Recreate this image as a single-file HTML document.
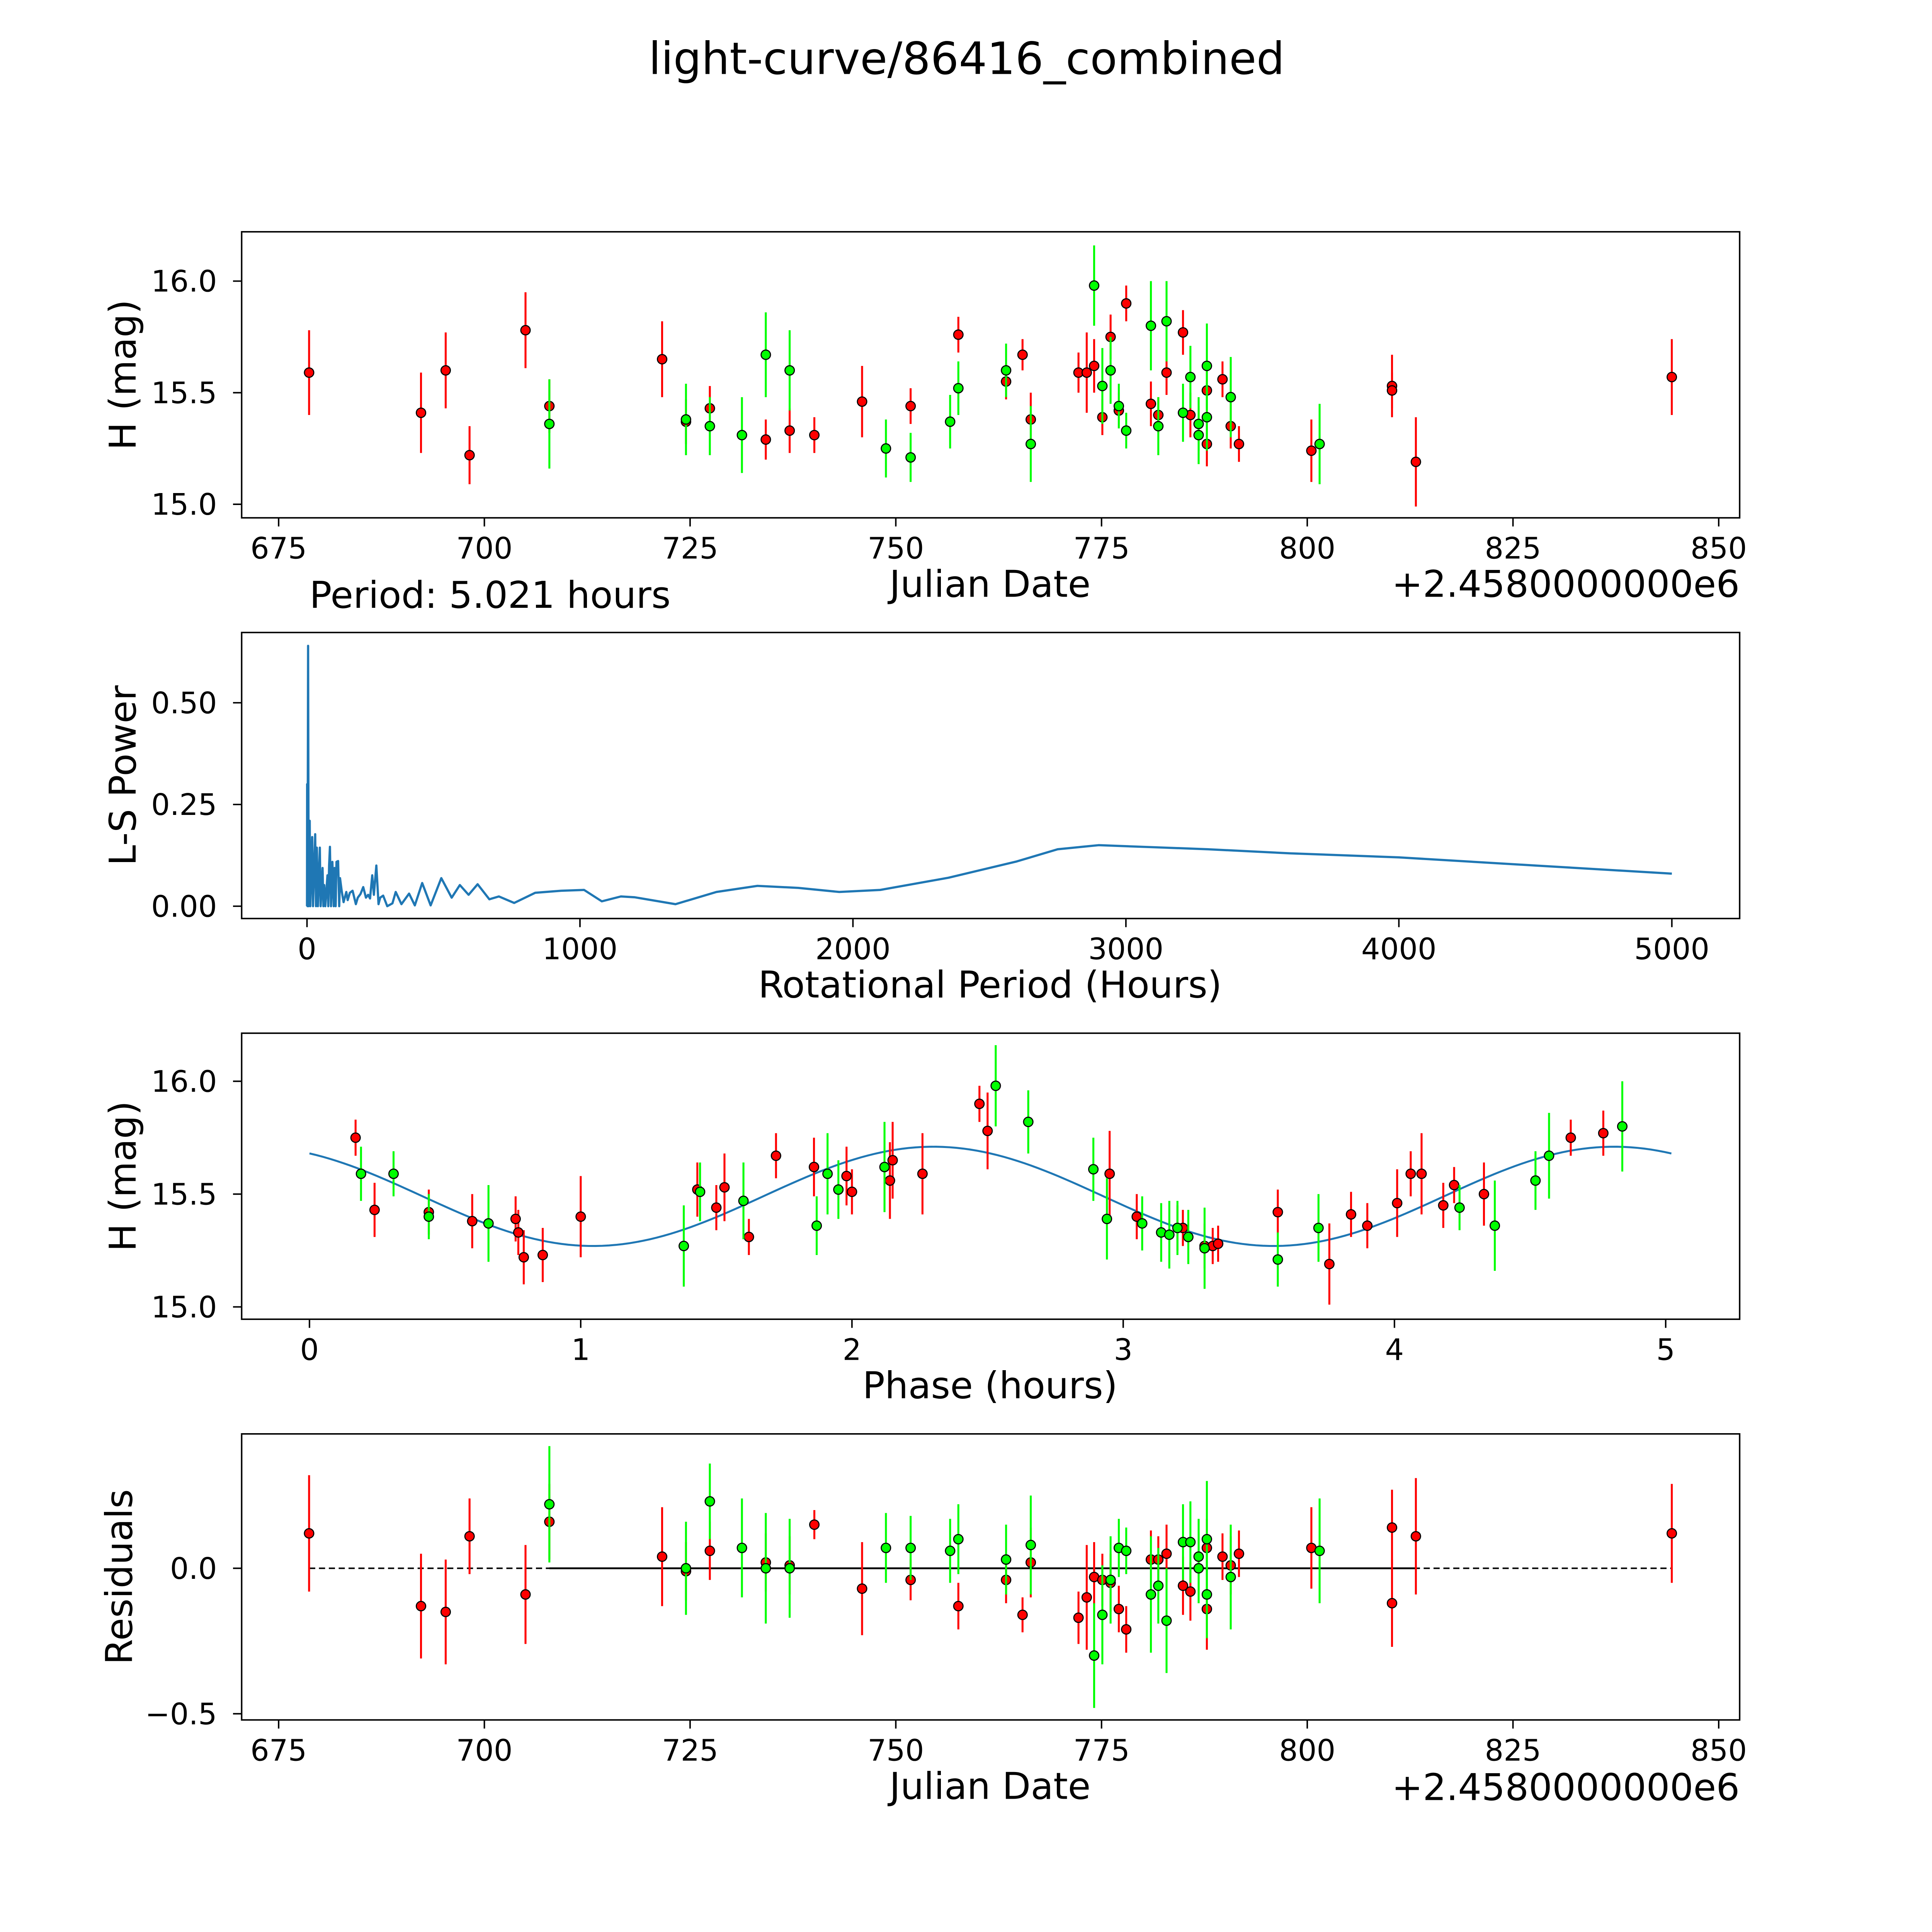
<!DOCTYPE html>
<html><head><meta charset="utf-8"><style>
html,body{margin:0;padding:0;background:#fff;overflow:hidden;width:100%;height:100%;}
svg{display:block;position:absolute;left:0;top:0;width:100vw;height:100vh;}
text{font-family:"DejaVu Sans","Liberation Sans",sans-serif;fill:#000;}
</style></head><body>
<svg id="fig" viewBox="0 0 1567 1567" preserveAspectRatio="none" xmlns="http://www.w3.org/2000/svg">
<rect width="1567" height="1567" fill="#fff"/>
<text x="784" y="60" font-size="36" text-anchor="middle">light-curve/86416_combined</text>
</svg>
<script>
// ---- Panel 1: light curve (date, mag, err) ----
const redDates=[678.7,692.3,695.3,698.2,705.0,707.9,721.6,724.5,727.4,734.2,737.1,740.1,745.9,751.8,757.6,763.4,765.4,766.4,772.2,773.2,774.1,775.1,776.1,777.1,778.0,781.0,781.9,782.9,784.9,785.8,787.8,787.8,789.7,790.7,791.7,800.5,810.3,810.3,813.2,844.3];
const redMags=[15.59,15.41,15.60,15.22,15.78,15.44,15.65,15.37,15.43,15.29,15.33,15.31,15.46,15.44,15.76,15.55,15.67,15.38,15.59,15.59,15.62,15.39,15.75,15.42,15.90,15.45,15.40,15.59,15.77,15.40,15.51,15.27,15.56,15.35,15.27,15.24,15.53,15.51,15.19,15.57];
const redErrs=[0.19,0.18,0.17,0.13,0.17,0.12,0.17,0.10,0.10,0.09,0.10,0.08,0.16,0.08,0.08,0.08,0.07,0.12,0.09,0.18,0.12,0.08,0.10,0.08,0.08,0.10,0.08,0.10,0.10,0.10,0.10,0.10,0.08,0.10,0.08,0.14,0.14,0.08,0.20,0.17];
const greenDates=[707.9,724.5,727.4,731.3,734.2,737.1,748.8,751.8,756.6,757.6,763.4,766.4,774.1,775.1,776.1,777.1,778.0,781.0,781.9,782.9,784.9,785.8,786.8,786.8,787.8,787.8,790.7,801.5];
const greenMags=[15.36,15.38,15.35,15.31,15.67,15.60,15.25,15.21,15.37,15.52,15.60,15.27,15.98,15.53,15.60,15.44,15.33,15.80,15.35,15.82,15.41,15.57,15.36,15.31,15.62,15.39,15.48,15.27];
const greenErrs=[0.20,0.16,0.13,0.17,0.19,0.18,0.13,0.11,0.12,0.12,0.12,0.17,0.18,0.17,0.15,0.10,0.08,0.20,0.13,0.18,0.13,0.14,0.12,0.13,0.19,0.15,0.18,0.18];
// ---- Panel 2: periodogram ----
const lsPeriods=[0,0.5,2,4,6,10,12,19,22,30,33,36,40,47,50,57,60,63,67,75,78,81,84,88,93,98,101,105,108,114,118,121,127,134,144,149,157,167,179,186,196,206,216,224,231,239,245,254,262,268,279,294,313,325,346,374,395,422,453,492,530,560,592,625,668,703,759,836,931,1015,1080,1150,1200,1350,1500,1650,1800,1950,2100,2350,2600,2750,2900,3100,3300,3600,4000,4500,5000];
const lsPowers=[0,0.30,0,0.64,0,0.21,0,0.17,0,0.177,0,0.144,0,0.144,0,0.094,0,0.052,0,0.076,0,0.10,0.146,0,0.109,0,0.094,0,0.109,0.111,0,0.069,0.038,0.01,0.035,0.015,0.033,0.038,0.005,0.021,0.03,0.047,0.021,0.028,0.019,0.076,0.028,0.10,0.005,0.021,0.026,0,0.007,0.035,0.005,0.031,0.002,0.057,0.002,0.069,0.021,0.052,0.028,0.054,0.017,0.024,0.008,0.033,0.038,0.04,0.012,0.024,0.022,0.005,0.035,0.05,0.045,0.035,0.04,0.07,0.11,0.14,0.15,0.145,0.14,0.13,0.12,0.10,0.08];
// ---- Panel 3: phased ----
const redPhases=[0.17,0.24,0.44,0.60,0.76,0.77,0.79,0.86,1.00,1.43,1.50,1.53,1.62,1.72,1.86,1.98,2.00,2.14,2.15,2.26,2.47,2.50,2.95,3.05,3.20,3.22,3.30,3.33,3.35,3.57,3.76,3.84,3.90,4.01,4.06,4.10,4.18,4.22,4.33,4.65,4.77];
const redPhaseMags=[15.75,15.43,15.42,15.38,15.39,15.33,15.22,15.23,15.40,15.52,15.44,15.53,15.31,15.67,15.62,15.58,15.51,15.56,15.65,15.59,15.90,15.78,15.59,15.40,15.35,15.35,15.27,15.27,15.28,15.42,15.19,15.41,15.36,15.46,15.59,15.59,15.45,15.54,15.50,15.75,15.77];
const redPhaseErrs=[0.08,0.12,0.10,0.12,0.10,0.10,0.12,0.12,0.18,0.12,0.10,0.15,0.08,0.10,0.13,0.13,0.10,0.17,0.17,0.18,0.08,0.17,0.19,0.10,0.10,0.08,0.10,0.08,0.08,0.10,0.18,0.10,0.10,0.15,0.10,0.18,0.10,0.08,0.14,0.08,0.10];
const greenPhases=[0.19,0.31,0.44,0.66,1.38,1.44,1.60,1.87,1.91,1.95,2.12,2.53,2.65,2.89,2.94,3.07,3.14,3.17,3.20,3.24,3.30,3.57,3.72,4.24,4.37,4.52,4.57,4.84];
const greenPhaseMags=[15.59,15.59,15.40,15.37,15.27,15.51,15.47,15.36,15.59,15.52,15.62,15.98,15.82,15.61,15.39,15.37,15.33,15.32,15.35,15.31,15.26,15.21,15.35,15.44,15.36,15.56,15.67,15.80];
const greenPhaseErrs=[0.12,0.10,0.10,0.17,0.18,0.13,0.17,0.13,0.18,0.13,0.20,0.18,0.14,0.14,0.18,0.12,0.13,0.15,0.12,0.12,0.18,0.12,0.15,0.10,0.20,0.13,0.19,0.20];
const fitParams=[15.49,0.22,2.51,2.30]; // mean, amplitude, period(h), peak phase
// ---- Panel 4: residuals ----
const redResid=[0.12,-0.13,-0.15,0.11,-0.09,0.16,0.04,-0.01,0.06,0.02,0.01,0.15,-0.07,-0.04,-0.13,-0.04,-0.16,0.02,-0.17,-0.10,-0.03,-0.04,-0.05,-0.14,-0.21,0.03,0.03,0.05,-0.06,-0.08,0.07,-0.14,0.04,0.01,0.05,0.07,0.14,-0.12,0.11,0.12];
const redResidErrs=[0.20,0.18,0.18,0.13,0.17,0.13,0.17,0.10,0.10,0.10,0.10,0.05,0.16,0.07,0.08,0.08,0.06,0.12,0.09,0.18,0.12,0.09,0.10,0.08,0.08,0.10,0.08,0.10,0.10,0.10,0.10,0.14,0.08,0.10,0.08,0.14,0.13,0.15,0.20,0.17];
const greenResid=[0.22,0.00,0.23,0.07,0.00,0.00,0.07,0.07,0.06,0.10,0.03,0.08,-0.30,-0.16,-0.04,0.07,0.06,-0.09,-0.06,-0.18,0.09,0.09,0.00,0.04,0.10,-0.09,-0.03,0.06];
const greenResidErrs=[0.20,0.16,0.13,0.17,0.19,0.17,0.12,0.11,0.11,0.12,0.12,0.17,0.18,0.17,0.15,0.10,0.08,0.20,0.13,0.18,0.13,0.14,0.12,0.13,0.20,0.15,0.18,0.18];
const dateTicks=[675,700,725,750,775,800,825,850];
const magTicks=[15.0,15.5,16.0];
const magTickLabels=["15.0","15.5","16.0"];
const lsXTicks=[0,1000,2000,3000,4000,5000];
const lsYTicks=[0,0.25,0.5];
const lsYTickLabels=["0.00","0.25","0.50"];
const phaseTicks=[0,1,2,3,4,5];
const residTicks=[-0.5,0.0];
const residTickLabels=["\u22120.5","0.0"];

const NS="http://www.w3.org/2000/svg";
const svg=document.getElementById('fig');
function mk(tag,attrs,parent){const e=document.createElementNS(NS,tag);for(const k in attrs)e.setAttribute(k,attrs[k]);(parent||svg).appendChild(e);return e;}
function lin(d0,d1,r0,r1){return v=>r0+(v-d0)*(r1-r0)/(d1-d0);}
const L=196,R=1411;
const xDate=lin(675,850,226,1394);
const xLS=lin(0,5000,249,1356);
const xPh=lin(0,5,251,1351);
const panels=[{t:188,b:420,name:'light-curve-panel'},{t:513,b:745,name:'periodogram-panel'},{t:838,b:1070,name:'phase-panel'},{t:1163,b:1395,name:'residuals-panel'}];
const y1=lin(15,16,409,228), y2=lin(0,0.5,735,570), y3=lin(15,16,1060,877), y4=lin(-0.5,0,1390,1272);

function frame(p){const g=mk('g',{});
 const c=mk('clipPath',{id:'c'+p.t},g);mk('rect',{x:L,y:p.t,width:R-L,height:p.b-p.t},c);p.g=g;p.clip=mk('g',{'clip-path':'url(#c'+p.t+')'},g);return g;}
function axes(p,xt,xf,xl,yt,yf,yl,xlbl,ylbl,ylx){
 const g=p.g;
 const ax=mk('g',{},g);
 xt.forEach((v,i)=>{const x=xf(v);mk('line',{x1:x,x2:x,y1:p.b,y2:p.b+7,stroke:'#000','stroke-width':1.2},ax);
  const t=mk('text',{x:x,y:p.b+33,'font-size':24,'text-anchor':'middle'},ax);t.textContent=xl[i];});
 const ay=mk('g',{},g);
 yt.forEach((v,i)=>{const y=yf(v);mk('line',{x1:L-7,x2:L,y1:y,y2:y,stroke:'#000','stroke-width':1.2},ay);
  const t=mk('text',{x:L-20,y:y+8.5,'font-size':24,'text-anchor':'end'},ay);t.textContent=yl[i];});
 const xt2=mk('text',{x:803,y:p.b+64,'font-size':30,'text-anchor':'middle'},g);xt2.textContent=xlbl;
 const cy=(p.t+p.b)/2;const yt2=mk('text',{x:ylx,y:cy,'font-size':30,'text-anchor':'middle',transform:'rotate(-90 '+ylx+' '+cy+')'},g);yt2.textContent=ylbl;
 mk('rect',{x:L,y:p.t,width:R-L,height:p.b-p.t,fill:'none',stroke:'#000','stroke-width':1.2},g);
}
function errpts(parent,xs,ys,es,xf,yf,col,name){
 const g=mk('g',{},parent);
 xs.forEach((v,i)=>{const x=xf(v);const l=mk('line',{x1:x,x2:x,y1:yf(ys[i]-es[i]),y2:yf(ys[i]+es[i]),stroke:col,'stroke-width':1.6},g);});
 xs.forEach((v,i)=>{const c=mk('circle',{cx:xf(v),cy:yf(ys[i]),r:3.8,fill:col,stroke:'#000','stroke-width':0.9},g);});
}
function offset(y){const t=mk('text',{x:R,y:y,'font-size':30,'text-anchor':'end'});t.textContent='+2.4580000000e6';}
const dateLbl=dateTicks.map(String);

// Panel 1
let p=panels[0];frame(p);
errpts(p.clip,redDates,redMags,redErrs,xDate,y1,'#ff0000','red-series');
errpts(p.clip,greenDates,greenMags,greenErrs,xDate,y1,'#00ff00','green-series');
axes(p,dateTicks,xDate,dateLbl,magTicks,y1,magTickLabels,'Julian Date','H (mag)',110);
offset(484);
let pt=mk('text',{x:251,y:493,'font-size':30});pt.textContent='Period: 5.021 hours';

// Panel 2
p=panels[1];frame(p);
let d=lsPeriods.map((v,i)=>(i?'L':'M')+xLS(v).toFixed(2)+' '+y2(lsPowers[i]).toFixed(2)).join(' ');
let pl=mk('path',{d:d,fill:'none',stroke:'#1f77b4','stroke-width':1.8,'stroke-linejoin':'round'},p.clip);
axes(p,lsXTicks,xLS,lsXTicks.map(String),lsYTicks,y2,lsYTickLabels,'Rotational Period (Hours)','L-S Power',110);

// Panel 3
p=panels[2];frame(p);
let fd='';for(let i=0;i<=200;i++){const t=5.021*i/200;const m=fitParams[0]+fitParams[1]*Math.cos(2*Math.PI*(t-fitParams[3])/fitParams[2]);fd+=(i?'L':'M')+xPh(t).toFixed(2)+' '+y3(m).toFixed(2)+' ';}
let fl=mk('path',{d:fd,fill:'none',stroke:'#1f77b4','stroke-width':1.6},p.clip);
errpts(p.clip,redPhases,redPhaseMags,redPhaseErrs,xPh,y3,'#ff0000','red-phase-series');
errpts(p.clip,greenPhases,greenPhaseMags,greenPhaseErrs,xPh,y3,'#00ff00','green-phase-series');
axes(p,phaseTicks,xPh,phaseTicks.map(String),magTicks,y3,magTickLabels,'Phase (hours)','H (mag)',110);

// Panel 4
p=panels[3];frame(p);
let dl=mk('line',{x1:xDate(678.7),x2:xDate(844.3),y1:y4(0),y2:y4(0),stroke:'#000','stroke-width':1.2,'stroke-dasharray':'5,3'},p.clip);
let sl=mk('line',{x1:xDate(707.9),x2:xDate(813.2),y1:y4(0),y2:y4(0),stroke:'#000','stroke-width':1.5},p.clip);
errpts(p.clip,redDates,redResid,redResidErrs,xDate,y4,'#ff0000','red-residuals');
errpts(p.clip,greenDates,greenResid,greenResidErrs,xDate,y4,'#00ff00','green-residuals');
axes(p,dateTicks,xDate,dateLbl,residTicks,y4,residTickLabels,'Julian Date','Residuals',107);
offset(1460);
</script>
</body></html>
